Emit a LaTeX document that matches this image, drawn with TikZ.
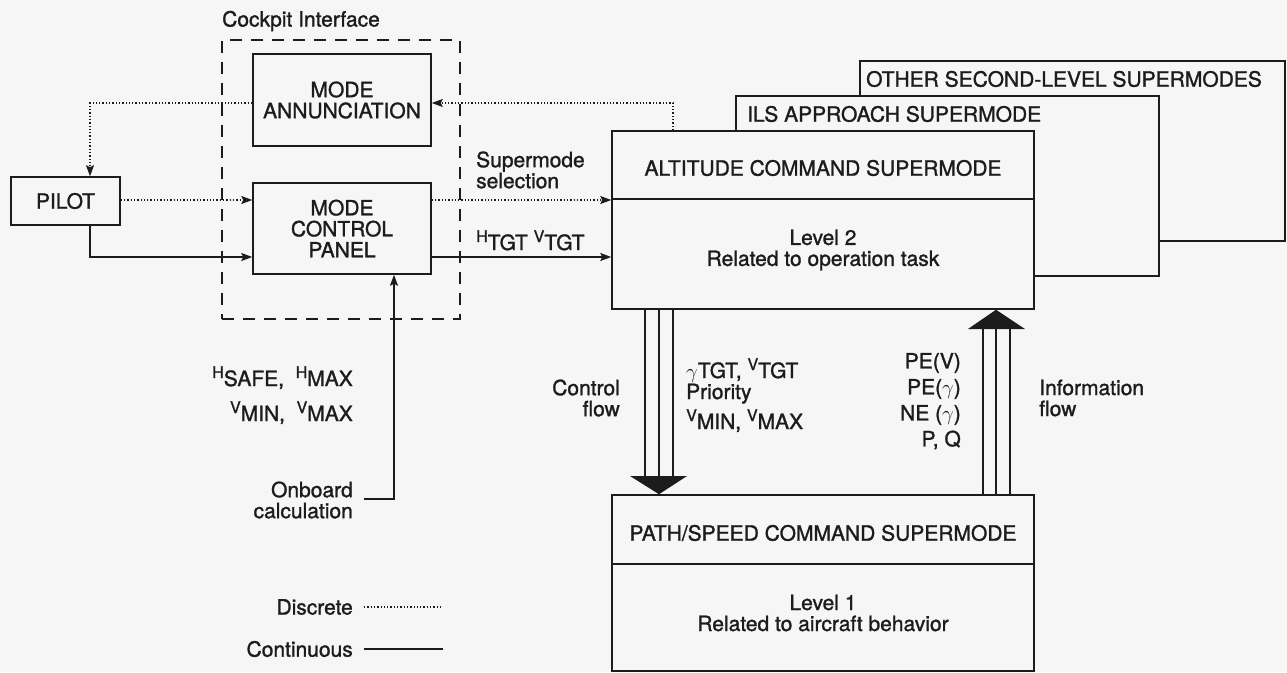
\documentclass[tikz,border=0pt]{standalone}
\usepackage{fontspec}
\setmainfont{TeX Gyre Heros}[FakeBold=1.3]
\usetikzlibrary{arrows.meta,calc}
\definecolor{bg}{RGB}{246,246,246}
\definecolor{ink}{RGB}{28,28,28}
\newcommand{\rs}[2]{{\fontsize{16}{16}\selectfont\raisebox{8pt}{#1}}#2}
\begin{document}
\begin{tikzpicture}[x=1pt,y=-1pt,
  every node/.style={font=\fontsize{21}{21}\selectfont, text=ink, inner sep=0pt},
  box/.style={draw=ink, line width=1.5pt, fill=bg, rectangle},
  cont/.style={draw=ink, line width=1.4pt},
  disc/.style={draw=ink, line width=1.4pt, dash pattern=on 1.3pt off 2pt},
  cockpitline/.style={draw=ink, line width=1.4pt, dash pattern=on 12pt off 9pt},
  arr/.style={-{Stealth[length=11pt,width=8pt,inset=2pt]}},
  ]
\fill[bg] (0,0) rectangle (1287,672);
\useasboundingbox (0,0) rectangle (1287,672);

% helper coordinates
\coordinate (x90) at (90,0);
\coordinate (y103) at (0,103);
\coordinate (y200) at (0,200);
\coordinate (y257) at (0,257);
\coordinate (x673) at (673,0);
\coordinate (x394) at (394,0);
\coordinate (cf) at (659,0);
\coordinate (inf) at (996,0);

% cockpit interface
\node[cockpitline, minimum width=238pt, minimum height=279pt] (cockpit) at (341,179.5) {};
\node[anchor=west] (cockpitlabel) at (222,21) {Cockpit Interface};

\node[box, minimum width=178pt, minimum height=92pt, align=center] (ann) at (342,100) {MODE\\ANNUNCIATION};
\node[box, minimum width=178pt, minimum height=91pt, align=center] (mcp) at (342,228.5) {MODE\\CONTROL\\PANEL};
\node[box, minimum width=109pt, minimum height=48pt] (pilot) at (65.5,201) {PILOT};

% supermode stack
\node[box, minimum width=425pt, minimum height=180pt] (other) at (1072.5,151) {};
\node[anchor=west] (otherlabel) at (866,79) {OTHER SECOND-LEVEL SUPERMODES};
\node[box, minimum width=423pt, minimum height=180pt] (ils) at (947.5,186) {};
\node[anchor=west] (ilslabel) at (747,114) {ILS APPROACH SUPERMODE};
\node[box, minimum width=422pt, minimum height=178pt] (alt) at (823,220) {};
\coordinate (d2) at (0,199);
\draw[cont] (alt.west |- d2) -- (alt.east |- d2);
\node (alttitle) at (823,168) {ALTITUDE COMMAND SUPERMODE};
\node[align=center] (alttext) at (823,250) {Level 2\\Related to operation task};

\node[box, minimum width=422pt, minimum height=176pt] (path) at (823,583) {};
\coordinate (d1) at (0,564);
\draw[cont] (path.west |- d1) -- (path.east |- d1);
\node (pathtitle) at (823,533) {PATH/SPEED COMMAND SUPERMODE};
\node[align=center] (pathtext) at (823,613) {Level 1\\Related to aircraft behavior};

% connectors
\draw[disc,arr] (ann.west |- y103) -| (pilot.north -| x90);
\draw[disc,arr] (pilot.east |- y200) -- (mcp.west |- y200);
\draw[cont,arr] (pilot.south -| x90) |- (mcp.west |- y257);
\draw[disc,arr] (mcp.east |- y200) -- (alt.west |- y200);
\draw[cont,arr] (mcp.east |- y257) -- (alt.west |- y257);
\draw[disc,arr] (alt.north -| x673) |- (ann.east |- y103);

\node[anchor=west, align=left] (supsel) at (476,170) {Supermode\\selection};
\node[anchor=base west] (htgt) at (476,250) {\rs{H}{TGT} \rs{V}{TGT}};

% onboard calculation
\node[anchor=east, align=right] (onb) at (353,500) {Onboard\\calculation};
\coordinate (onbend) at ($(onb.east)+(11,-1)$);
\draw[cont,arr] (onbend) -| (mcp.south -| x394);
\node[anchor=base east] (hsafe) at (353,386) {\rs{H}{SAFE}, \ \rs{H}{MAX}};
\node[anchor=base east] (vmin) at (353,421) {\rs{V}{MIN}, \ \rs{V}{MAX}};

% control flow arrow
\foreach \dx in {-14,0,14}
  \draw[cont, line width=1.3pt] ($(alt.south -| cf)+(\dx,0)$) -- ++(0,167);
\fill[ink] (630,476) -- (687,476) -- (path.north -| cf) -- cycle;
% information flow arrow
\foreach \dx in {-13,0,14}
  \draw[cont, line width=1.3pt] ($(path.north -| inf)+(\dx,0)$) -- ++(0,-166);
\fill[ink] (968,329) -- (1025,329) -- (alt.south -| inf) -- cycle;

\node[anchor=east, align=right] (cflow) at (620,398) {Control\\flow};
\node[anchor=west, align=left] (iflow) at (1039,398) {Information\\flow};

\node[anchor=base west] (g1) at (686,378) {$\gamma$TGT, \rs{V}{TGT}};
\node[anchor=base west] (g2) at (686,399) {Priority};
\node[anchor=base west] (g3) at (686,429) {\rs{V}{MIN}, \rs{V}{MAX}};

\node[anchor=east] (pe1) at (961,363) {PE(V)};
\node[anchor=east] (pe2) at (961,389) {PE($\gamma$)};
\node[anchor=east] (pe3) at (961,415) {NE ($\gamma$)};
\node[anchor=east] (pe4) at (961,440) {P, Q};

% legend
\node[anchor=east] (ldisc) at (353,607) {Discrete};
\coordinate (ldiscend) at ($(ldisc.east)+(11,0)$);
\draw[disc] (ldiscend) -- ++(79,0);
\node[anchor=east] (lcont) at (353,649) {Continuous};
\coordinate (lcontend) at ($(lcont.east)+(11,0)$);
\draw[cont] (lcontend) -- ++(79,0);
\end{tikzpicture}
\end{document}
